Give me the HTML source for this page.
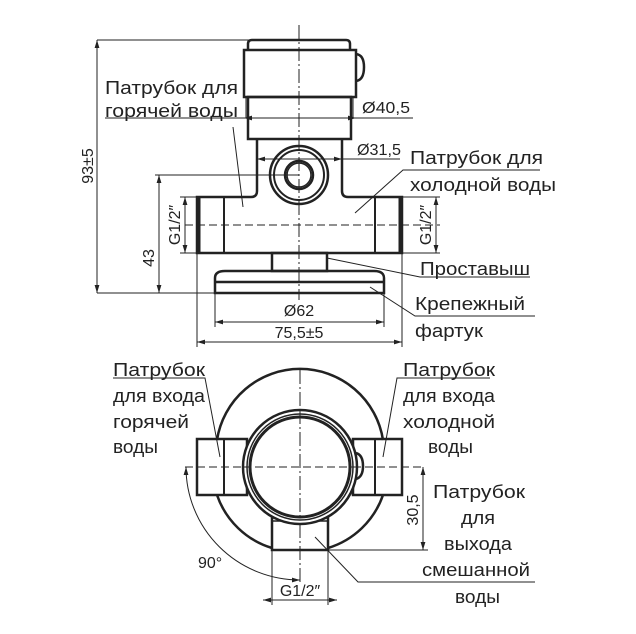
<!DOCTYPE html>
<html><head><meta charset="utf-8"><style>
html,body{margin:0;padding:0;background:#fff}
svg{display:block}
text{font-family:"Liberation Sans",sans-serif;fill:#222}
</style></head><body>
<svg width="636" height="634" viewBox="0 0 636 634" xmlns="http://www.w3.org/2000/svg">
<defs>
<marker id="a" viewBox="0 0 10 6" refX="10" refY="3" markerWidth="8" markerHeight="5" orient="auto-start-reverse" markerUnits="userSpaceOnUse"><path d="M0,0 L10,3 L0,6 z" fill="#222"/></marker>
</defs>
<g stroke="#222" fill="none">
<line x1="299" y1="25" x2="299" y2="300" stroke-width="1" stroke-dasharray="14,3,2,3"/>
<line x1="185" y1="225" x2="440" y2="225" stroke-width="1" stroke-dasharray="8,4"/>
<path d="M248,50 L248,44 Q248,40 252,40 L346,40 Q350,40 350,44 L350,50" stroke-width="2.5"/>
<rect x="244" y="50" width="112" height="47" stroke-width="2.5"/>
<path d="M356,54 Q364,55 364,67 Q364,80 356,81" stroke-width="2.5"/>
<rect x="248" y="97" width="103" height="42" stroke-width="2.5"/>
<line x1="246" y1="97" x2="246" y2="118" stroke-width="1"/>
<line x1="353" y1="97" x2="353" y2="118" stroke-width="1"/>
<path d="M257,139 L257,191 Q257,197 251,197 L197,197 L197,253 L402,253 L402,197 L348,197 Q342,197 342,191 L342,139" stroke-width="2.5"/>
<line x1="224" y1="197" x2="224" y2="253" stroke-width="2"/>
<line x1="375" y1="197" x2="375" y2="253" stroke-width="2"/>
<line x1="199" y1="198" x2="199" y2="252" stroke-width="3"/>
<line x1="400" y1="198" x2="400" y2="252" stroke-width="3"/>
<circle cx="299" cy="175" r="29" stroke-width="2.5"/>
<circle cx="299" cy="175" r="25" stroke-width="2"/>
<circle cx="299" cy="175" r="14" stroke-width="2.5"/>
<circle cx="299" cy="175" r="12" stroke-width="1.5"/>
<rect x="272" y="253" width="55" height="18" stroke-width="2.5"/>
<path d="M215,293 L215,278 Q215,271 225,271 L374,271 Q384,271 384,278 L384,293 Z" stroke-width="2.5"/>
<line x1="215" y1="282" x2="384" y2="282" stroke-width="2.5"/>
<g stroke-width="1">
<line x1="97" y1="40" x2="250" y2="40"/>
<line x1="97" y1="293" x2="215" y2="293"/>
<line x1="97" y1="40" x2="97" y2="293" marker-start="url(#a)" marker-end="url(#a)"/>
<line x1="155" y1="175" x2="299" y2="175"/>
<line x1="159" y1="175" x2="159" y2="293" marker-start="url(#a)" marker-end="url(#a)"/>
<line x1="180" y1="197" x2="197" y2="197"/>
<line x1="180" y1="253" x2="197" y2="253"/>
<line x1="185" y1="197" x2="185" y2="253" marker-start="url(#a)" marker-end="url(#a)"/>
<line x1="402" y1="197" x2="440" y2="197"/>
<line x1="402" y1="253" x2="440" y2="253"/>
<line x1="436" y1="197" x2="436" y2="253" marker-start="url(#a)" marker-end="url(#a)"/>
<line x1="244" y1="118" x2="356" y2="118" marker-start="url(#a)" marker-end="url(#a)"/>
<line x1="356" y1="118" x2="413" y2="118"/>
<line x1="105" y1="118" x2="244" y2="118"/>
<line x1="257" y1="159" x2="342" y2="159" marker-start="url(#a)" marker-end="url(#a)"/>
<line x1="342" y1="159" x2="400" y2="159"/>
<line x1="215" y1="293" x2="215" y2="327"/>
<line x1="384" y1="293" x2="384" y2="327"/>
<line x1="215" y1="322" x2="384" y2="322" marker-start="url(#a)" marker-end="url(#a)"/>
<line x1="197" y1="253" x2="197" y2="347"/>
<line x1="402" y1="253" x2="402" y2="347"/>
<line x1="197" y1="342" x2="402" y2="342" marker-start="url(#a)" marker-end="url(#a)"/>
<polyline points="233,127 243,207"/>
<polyline points="540,170 403,170 355,213"/>
<polyline points="327,258 420,277 530,277"/>
<polyline points="370,287 415,316 535,316"/>
</g>

<line x1="300" y1="370" x2="300" y2="585" stroke-width="1" stroke-dasharray="14,3,2,3"/>
<line x1="185" y1="467" x2="425" y2="467" stroke-width="1" stroke-dasharray="8,4"/>
<path d="M217,440 A84,84 0 0 1 383,440" stroke-width="2.5"/>
<path d="M217,495 A84,84 0 0 0 272,548" stroke-width="2.5"/>
<path d="M383,495 A84,84 0 0 1 328,548" stroke-width="2.5"/>
<rect x="197" y="439" width="50" height="56" stroke-width="2.5"/>
<line x1="224" y1="439" x2="224" y2="495" stroke-width="2"/>
<rect x="353" y="439" width="49" height="56" stroke-width="2.5"/>
<line x1="375" y1="439" x2="375" y2="495" stroke-width="2"/>
<rect x="272" y="517" width="56" height="33" stroke-width="2.5"/>
<line x1="272" y1="521" x2="328" y2="521" stroke-width="1.5"/>
<circle cx="300" cy="467" r="57" fill="#fff" stroke-width="2.5"/>
<circle cx="300" cy="467" r="53" stroke-width="1.5"/>
<circle cx="300" cy="467" r="50" stroke-width="3"/>
<line x1="300" y1="410" x2="300" y2="520" stroke-width="1" stroke-dasharray="14,3,2,3"/>
<line x1="243" y1="467" x2="357" y2="467" stroke-width="1" stroke-dasharray="8,4"/>
<path d="M356,453 Q363,455 363,466 Q363,477 356,479" stroke-width="2.5"/>
<g stroke-width="1">
<line x1="328" y1="550" x2="428" y2="550"/>
<line x1="423" y1="467" x2="423" y2="550" marker-start="url(#a)" marker-end="url(#a)"/>
<line x1="272" y1="550" x2="272" y2="605"/>
<line x1="328" y1="550" x2="328" y2="605"/>
<line x1="272" y1="600" x2="328" y2="600"/>
<line x1="263" y1="600" x2="272" y2="600" marker-start="url(#a)"/>
<line x1="337" y1="600" x2="328" y2="600" marker-start="url(#a)"/>
<path d="M186,467 A114,113 0 0 0 300,580" marker-start="url(#a)" marker-end="url(#a)"/>
<polyline points="113,378 205,378 220,457"/>
<polyline points="490,378 397,378 383,457"/>
<polyline points="315,537 358,582 535,582"/>
</g>
</g>

<g font-size="18">
<text x="105" y="94" textLength="133" lengthAdjust="spacingAndGlyphs">Патрубок  для</text>
<text x="105" y="117" textLength="133" lengthAdjust="spacingAndGlyphs">горячей воды</text>
<text x="410" y="164" textLength="133" lengthAdjust="spacingAndGlyphs">Патрубок  для</text>
<text x="410" y="191" textLength="146" lengthAdjust="spacingAndGlyphs">холодной воды</text>
<text x="420" y="275" textLength="110" lengthAdjust="spacingAndGlyphs">Проставыш</text>
<text x="415" y="310" textLength="110" lengthAdjust="spacingAndGlyphs">Крепежный</text>
<text x="415" y="337" textLength="68" lengthAdjust="spacingAndGlyphs">фартук</text>
</g>
<g font-size="16">
<text x="362" y="113" textLength="48" lengthAdjust="spacingAndGlyphs">Ø40,5</text>
<text x="357" y="155" textLength="44" lengthAdjust="spacingAndGlyphs">Ø31,5</text>
<text x="299" y="316" text-anchor="middle">Ø62</text>
<text x="299" y="338" text-anchor="middle">75,5±5</text>
<text transform="translate(93,166) rotate(-90)" text-anchor="middle">93±5</text>
<text transform="translate(154,258) rotate(-90)" text-anchor="middle">43</text>
<text transform="translate(180,225) rotate(-90)" text-anchor="middle">G1/2″</text>
<text transform="translate(431,225) rotate(-90)" text-anchor="middle">G1/2″</text>
<text transform="translate(418,510) rotate(-90)" text-anchor="middle">30,5</text>
<text x="300" y="596" text-anchor="middle">G1/2″</text>
<text x="198" y="568">90°</text>
</g>
<g font-size="18">
<text x="113" y="376" textLength="92" lengthAdjust="spacingAndGlyphs">Патрубок</text>
<text x="113" y="402" textLength="92" lengthAdjust="spacingAndGlyphs">для входа</text>
<text x="113" y="428" textLength="76" lengthAdjust="spacingAndGlyphs">горячей</text>
<text x="113" y="453" textLength="45" lengthAdjust="spacingAndGlyphs">воды</text>
<text x="403" y="376" textLength="92" lengthAdjust="spacingAndGlyphs">Патрубок</text>
<text x="403" y="402" textLength="92" lengthAdjust="spacingAndGlyphs">для входа</text>
<text x="403" y="428" textLength="92" lengthAdjust="spacingAndGlyphs">холодной</text>
<text x="428" y="453" textLength="45" lengthAdjust="spacingAndGlyphs">воды</text>
<text x="433" y="498" textLength="92" lengthAdjust="spacingAndGlyphs">Патрубок</text>
<text x="461" y="524" textLength="34" lengthAdjust="spacingAndGlyphs">для</text>
<text x="444" y="550" textLength="68" lengthAdjust="spacingAndGlyphs">выхода</text>
<text x="422" y="576" textLength="108" lengthAdjust="spacingAndGlyphs">смешанной</text>
<text x="455" y="603" textLength="45" lengthAdjust="spacingAndGlyphs">воды</text>
</g>
</svg>
</body></html>
